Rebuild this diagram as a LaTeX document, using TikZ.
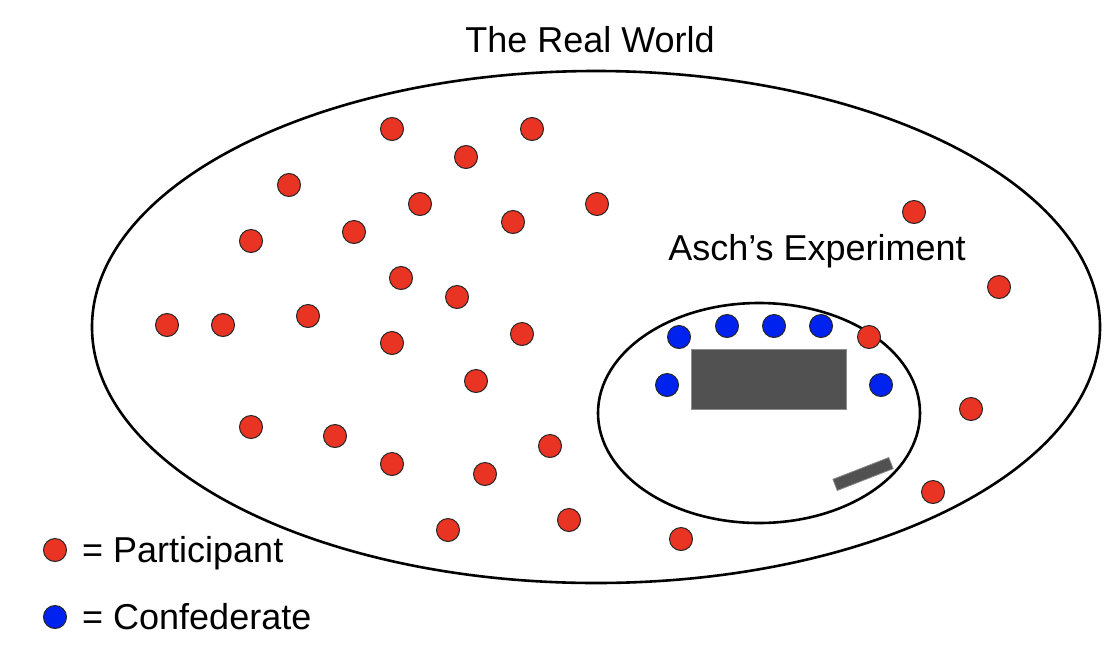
\documentclass[tikz,border=0pt]{standalone}
\usepackage{fontspec}
\setmainfont{Liberation Sans}
\begin{document}
\begin{tikzpicture}[x=1pt,y=-1pt,
  part/.style={circle,draw=black!85,line width=1pt,fill=redp,minimum size=23pt,inner sep=0pt},
  conf/.style={circle,draw=black!85,line width=1pt,fill=bluec,minimum size=23pt,inner sep=0pt},
  lbl/.style={font=\fontsize{36}{43}\selectfont,inner sep=0pt},
  furn/.style={fill=tablegray,draw=black!45,line width=0.8pt}]
\definecolor{redp}{RGB}{233,51,35}
\definecolor{bluec}{RGB}{0,34,238}
\definecolor{tablegray}{RGB}{81,81,81}
\useasboundingbox (0,0) rectangle (1118,648);
% world
\draw[line width=2.6pt] (596,327) ellipse [x radius=504, y radius=256];
\node[lbl,anchor=base] (world) at (590,52) {The Real World};
% experiment
\draw[line width=2.6pt] (759,413) ellipse [x radius=161, y radius=110];
\node[lbl,anchor=base] (asch) at (817,260) {Asch’s Experiment};
\draw[furn] (691,349) rectangle (846,409);
\draw[furn,rotate around={21.3:(863,474)}] (833,468) rectangle (893,480);
% confederates
\node[conf] (c1) at (679,337) {};
\node[conf] (c2) at (727,326) {};
\node[conf] (c3) at (774,326) {};
\node[conf] (c4) at (821,326) {};
\node[conf] (c5) at (667,385) {};
\node[conf] (c6) at (881,385) {};
\node[part] (s) at (869,337) {};
% participants
\node[part] (p1) at (392,129) {};
\node[part] (p2) at (532,129) {};
\node[part] (p3) at (466,157) {};
\node[part] (p4) at (289,185) {};
\node[part] (p5) at (420,204) {};
\node[part] (p6) at (597,204) {};
\node[part] (p7) at (513,222) {};
\node[part] (p8) at (251,241) {};
\node[part] (p9) at (354,232) {};
\node[part] (p10) at (401,278) {};
\node[part] (p11) at (457,297) {};
\node[part] (p12) at (308,316) {};
\node[part] (p13) at (392,343) {};
\node[part] (p14) at (522,334) {};
\node[part] (p15) at (167,325) {};
\node[part] (p16) at (223,325) {};
\node[part] (p17) at (476,381) {};
\node[part] (p18) at (251,427) {};
\node[part] (p19) at (335,436) {};
\node[part] (p20) at (392,464) {};
\node[part] (p21) at (485,474) {};
\node[part] (p22) at (550,446) {};
\node[part] (p23) at (448,530) {};
\node[part] (p24) at (569,520) {};
\node[part] (p25) at (681,539) {};
\node[part] (p26) at (914,212) {};
\node[part] (p27) at (999,287) {};
\node[part] (p28) at (971,409) {};
\node[part] (p29) at (933,492) {};
% legend
\node[part] (lp) at (55,550) {};
\node[lbl,anchor=base west] (lpt) at (82,562) {= Participant};
\node[conf] (lc) at (55,617) {};
\node[lbl,anchor=base west] (lct) at (82,629) {= Confederate};
\end{tikzpicture}
\end{document}
